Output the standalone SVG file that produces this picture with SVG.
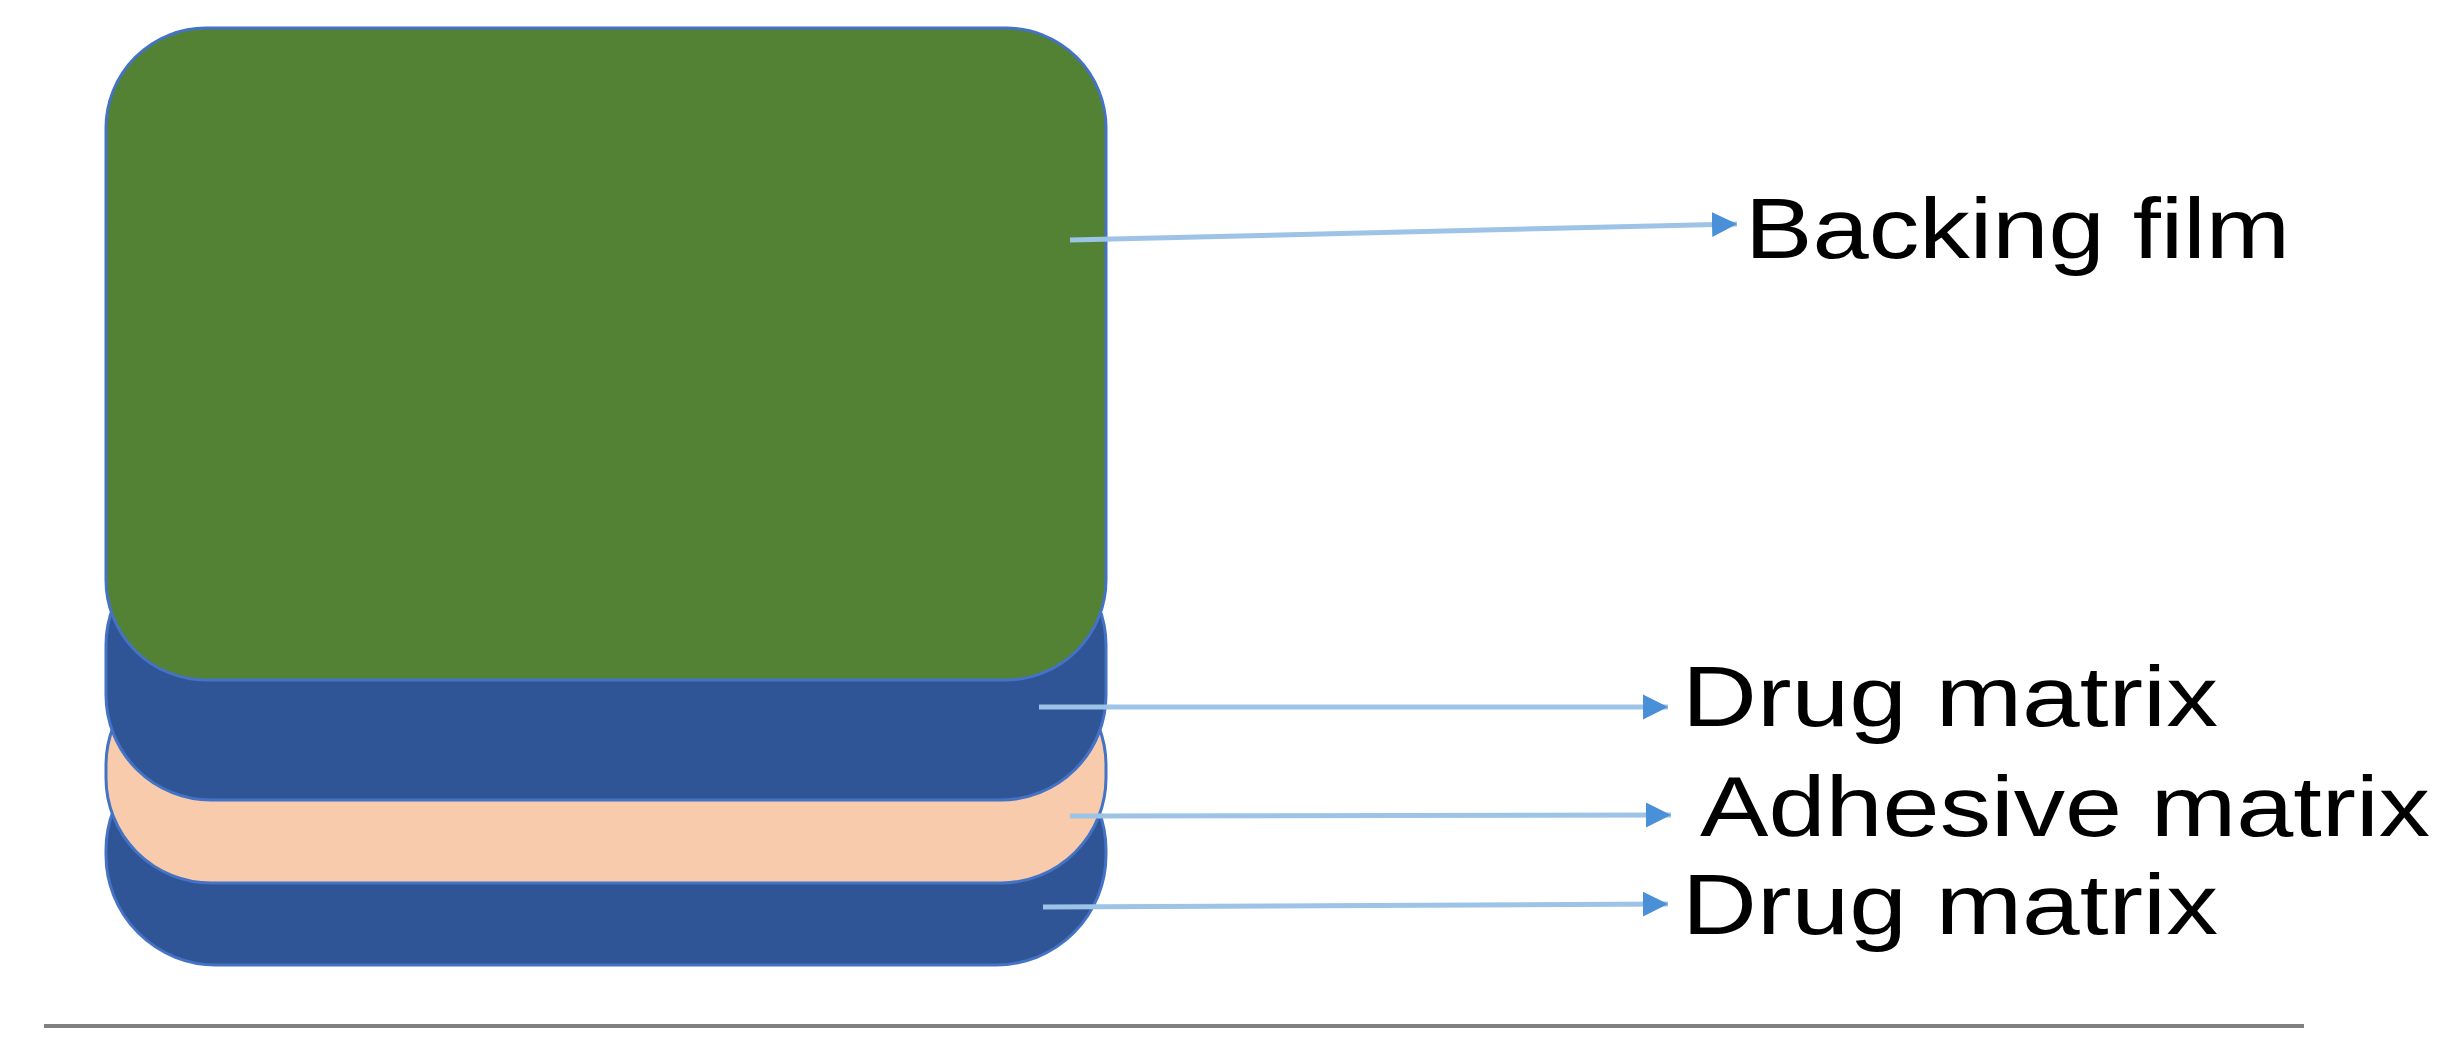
<svg xmlns="http://www.w3.org/2000/svg" width="2449" height="1060" viewBox="0 0 2449 1060">
<style>
.lbl{font-family:"Liberation Sans",Arial,sans-serif;font-size:86px;fill:#000}
.con{stroke:#9dc3e6;stroke-width:5;fill:none;marker-end:url(#ah)}
.lay{stroke:#4472c4;stroke-width:3}
</style>
<defs>
<marker id="ah" viewBox="0 0 10 10" refX="10" refY="5" markerWidth="5" markerHeight="6" markerUnits="strokeWidth" orient="auto">
<path d="M0,0 L10,5 L0,10 Z" fill="#4a90d9"/>
</marker>
</defs>
<rect width="2449" height="1060" fill="#fff"/>
<g id="drug2"><rect class="lay" x="106" y="740" width="1000" height="225" rx="110" fill="#2f5597"/></g>
<g id="adhesive"><rect class="lay" x="106" y="660" width="1000" height="223" rx="105" fill="#f8cbad"/></g>
<g id="drug1"><rect class="lay" x="106" y="540" width="1000" height="260" rx="105" fill="#2f5597"/></g>
<g id="backing"><rect class="lay" x="106" y="28" width="1000" height="652" rx="100" fill="#548235"/></g>
<line x1="44" y1="1026" x2="2304" y2="1026" stroke="#808080" stroke-width="4"/>
<g id="connectors">
<line class="con" x1="1070" y1="240" x2="1737" y2="224"/>
<line class="con" x1="1039" y1="707" x2="1668" y2="707"/>
<line class="con" x1="1070" y1="816" x2="1671" y2="815"/>
<line class="con" x1="1043" y1="907" x2="1668" y2="904"/>
</g>
<g id="labels">
<text class="lbl" x="1745" y="258" textLength="545" lengthAdjust="spacingAndGlyphs">Backing film</text>
<text class="lbl" x="1682" y="726" textLength="536" lengthAdjust="spacingAndGlyphs">Drug matrix</text>
<text class="lbl" x="1700" y="836" textLength="730" lengthAdjust="spacingAndGlyphs">Adhesive matrix</text>
<text class="lbl" x="1682" y="934" textLength="536" lengthAdjust="spacingAndGlyphs">Drug matrix</text>
</g>
</svg>
